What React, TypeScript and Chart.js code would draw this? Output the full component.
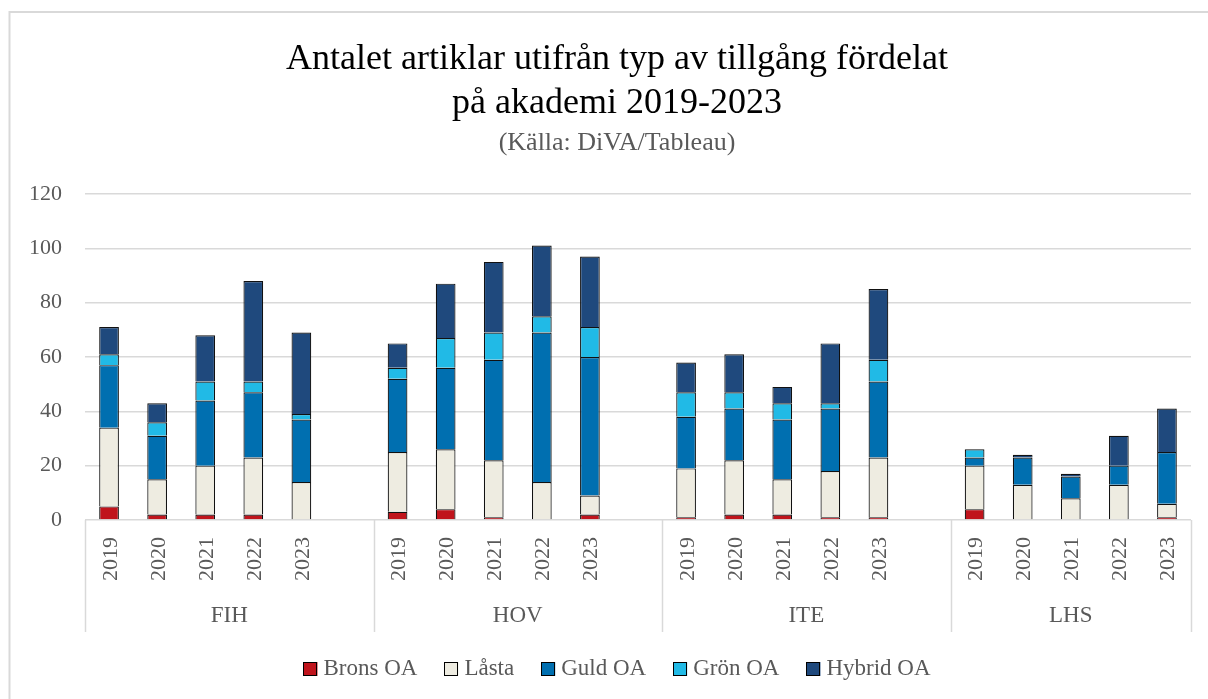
import React, { useEffect, useRef } from 'react';
import { Chart, registerables } from 'chart.js';

Chart.register(...registerables);

// ---------- DATA ----------
const groups = ['FIH', 'HOV', 'ITE', 'LHS'];
const years = ['2019', '2020', '2021', '2022', '2023'];
const seriesNames = ['Brons OA', 'Låsta', 'Guld OA', 'Grön OA', 'Hybrid OA'];

// values per group, per year (FIH 2019..2023, HOV ..., ITE ..., LHS ...)
const brons = [5, 2, 2, 2, 0, 3, 4, 1, 0, 2, 1, 2, 2, 1, 1, 4, 0, 0, 0, 1];
const lasta = [29, 13, 18, 21, 14, 22, 22, 21, 14, 7, 18, 20, 13, 17, 22, 16, 13, 8, 13, 5];
const guld = [23, 16, 24, 24, 23, 27, 30, 37, 55, 51, 19, 19, 22, 23, 28, 3, 10, 8, 7, 19];
const gron = [4, 5, 7, 4, 2, 4, 11, 10, 6, 11, 9, 6, 6, 2, 8, 3, 0, 0, 0, 0];
const hybrid = [10, 7, 17, 37, 30, 9, 20, 26, 26, 26, 11, 14, 6, 22, 26, 0, 1, 1, 11, 16];

const yTicks = [0, 20, 40, 60, 80, 100, 120];
const titleLines = ['Antalet artiklar utifrån typ av tillgång fördelat', 'på akademi 2019-2023'];
const subtitle = '(Källa: DiVA/Tableau)';

const colors = ['#C0141C', '#EEECE1', '#006FB0', '#21BAE6', '#1F497D'];

// ---------- helpers ----------
const FONT = "'Liberation Serif', 'Times New Roman', serif";
const GREY = '#595959';
const LINE = '#D9D9D9';
const CENTER_X = 617;

// Build category list with an empty slot between groups
const categories: string[] = [];
const slotToData: (number | null)[] = [];
const slotYear: (string | null)[] = [];
const groupStartSlot: number[] = [];
groups.forEach((g, gi) => {
  groupStartSlot.push(categories.length);
  years.forEach((y, yi) => {
    categories.push(`${g} ${y}`);
    slotToData.push(gi * years.length + yi);
    slotYear.push(y);
  });
  if (gi < groups.length - 1) {
    categories.push('');
    slotToData.push(null);
    slotYear.push(null);
  }
});

const series = [brons, lasta, guld, gron, hybrid];
const toSlots = (arr: number[]) => slotToData.map((i) => (i === null ? null : arr[i]));

const decorPlugin = {
  id: 'decor',
  beforeDraw(chart: any) {
    const ctx = chart.ctx;
    ctx.save();
    ctx.fillStyle = '#FFFFFF';
    ctx.fillRect(0, 0, chart.width, chart.height);
    ctx.strokeStyle = LINE;
    ctx.lineWidth = 2;
    ctx.strokeRect(9.5, 12, chart.width + 50, chart.height + 50);
    ctx.restore();
  },
  afterDraw(chart: any) {
    const ctx = chart.ctx;
    const xs = chart.scales.x;
    const area = chart.chartArea;
    const step = xs.getPixelForValue(1) - xs.getPixelForValue(0);
    ctx.save();

    // title
    ctx.textAlign = 'center';
    ctx.textBaseline = 'alphabetic';
    ctx.fillStyle = '#000000';
    ctx.font = `36px ${FONT}`;
    ctx.fillText(titleLines[0], CENTER_X, 69);
    ctx.fillText(titleLines[1], CENTER_X, 113);
    ctx.fillStyle = GREY;
    ctx.font = `26px ${FONT}`;
    ctx.fillText(subtitle, CENTER_X, 150);

    // group separators
    ctx.strokeStyle = LINE;
    ctx.lineWidth = 1.5;
    const bounds: number[] = groupStartSlot.map((s) => xs.getPixelForValue(s) - step / 2);
    bounds.push(area.right);
    bounds.forEach((bx) => {
      ctx.beginPath();
      ctx.moveTo(Math.round(bx) + 0.5, area.bottom);
      ctx.lineTo(Math.round(bx) + 0.5, 632);
      ctx.stroke();
    });

    // year labels (rotated)
    ctx.fillStyle = GREY;
    ctx.font = `22px ${FONT}`;
    ctx.textAlign = 'right';
    ctx.textBaseline = 'alphabetic';
    slotYear.forEach((y, i) => {
      if (!y) return;
      const cx = xs.getPixelForValue(i);
      ctx.save();
      ctx.translate(cx + 7.5, 537);
      ctx.rotate(-Math.PI / 2);
      ctx.fillText(y, 0, 0);
      ctx.restore();
    });

    // group labels
    ctx.textAlign = 'center';
    ctx.font = `23px ${FONT}`;
    groups.forEach((g, gi) => {
      const l = bounds[gi];
      const r = bounds[gi + 1];
      ctx.fillText(g, (l + r) / 2, 622);
    });

    // legend
    ctx.font = `23px ${FONT}`;
    const box = 14;
    const gapText = 6;
    const gapItem = 27;
    const widths = seriesNames.map((n) => box + gapText + ctx.measureText(n).width);
    const total = widths.reduce((a, b) => a + b, 0) + gapItem * (seriesNames.length - 1);
    let lx = CENTER_X - total / 2;
    ctx.textAlign = 'left';
    seriesNames.forEach((n, i) => {
      ctx.fillStyle = colors[i];
      ctx.fillRect(lx, 662, box, box);
      ctx.strokeStyle = '#000000';
      ctx.lineWidth = 1;
      ctx.strokeRect(Math.round(lx) + 0.5, 662.5, box - 1, box - 1);
      ctx.fillStyle = GREY;
      ctx.fillText(n, lx + box + gapText, 675);
      lx += widths[i] + gapItem;
    });

    ctx.restore();
  },
};

export default function App() {
  const canvasRef = useRef<HTMLCanvasElement | null>(null);

  useEffect(() => {
    if (!canvasRef.current) return;
    const chart = new Chart(canvasRef.current, {
      type: 'bar',
      data: {
        labels: categories,
        datasets: series.map((s, i) => ({
          label: seriesNames[i],
          data: toSlots(s),
          backgroundColor: colors[i],
          borderColor: '#111111',
          borderWidth: 1.2,
          barPercentage: 0.41,
          categoryPercentage: 1,
        })),
      },
      options: {
        responsive: false,
        animation: false,
        layout: { padding: { left: 0, right: 17, top: 194, bottom: 179 } },
        plugins: {
          legend: { display: false },
          title: { display: false },
          tooltip: { enabled: false },
        },
        scales: {
          x: {
            stacked: true,
            display: false,
          },
          y: {
            stacked: true,
            min: 0,
            max: 120,
            afterBuildTicks: (scale: any) => {
              scale.ticks = yTicks.map((v) => ({ value: v }));
            },
            afterFit: (scale: any) => {
              scale.width = 85;
            },
            border: { display: false },
            grid: { color: LINE, lineWidth: 1.5, drawTicks: false },
            ticks: {
              color: GREY,
              padding: 23,
              font: { family: FONT, size: 22 },
            },
          },
        },
      },
      plugins: [decorPlugin],
    });
    return () => chart.destroy();
  }, []);

  return (
    <canvas
      ref={canvasRef}
      width={1208}
      height={699}
      style={{ position: 'fixed', left: 0, top: 0, width: 1208, height: 699, display: 'block' }}
    />
  );
}
